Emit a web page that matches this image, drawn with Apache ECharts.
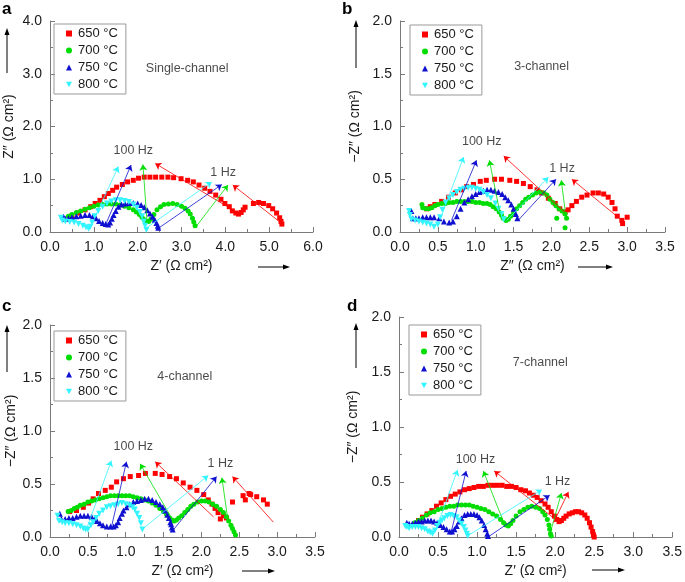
<!DOCTYPE html>
<html><head><meta charset="utf-8">
<script src="https://cdn.jsdelivr.net/npm/echarts@6/dist/echarts.min.js"></script>
<style>html,body{margin:0;padding:0;background:#fff}#c{width:685px;height:582px}</style>
</head><body><div id="c"></div>
<script>
// ---------- data ----------
const temps = ['650 °C', '700 °C', '750 °C', '800 °C'];
const panelLetters = ['a', 'b', 'c', 'd'];
const panelTitles = ['Single-channel', '3-channel', '4-channel', '7-channel'];
const xNames = ['Z′ (Ω cm²)', 'Z″ (Ω cm²)', 'Z′ (Ω cm²)', 'Z′ (Ω cm²)'];
const yNames = ['Z″ (Ω cm²)', '−Z″ (Ω cm²)', '−Z″ (Ω cm²)', '−Z″ (Ω cm²)'];
const xMax = [6, 3.5, 3.5, 3.5];
const xStep = [1, 0.5, 0.5, 0.5];
const yMax = [4, 2, 2, 2];
const yStep = [1, 0.5, 0.5, 0.5];

const a650 = [[0.5,0.3],[0.65,0.36],[0.8,0.42],[0.93,0.48],[1.03,0.54],[1.14,0.6],[1.24,0.67],[1.33,0.73],[1.43,0.79],[1.52,0.85],[1.65,0.9],[1.77,0.95],[1.9,0.98],[2.02,1.02],[2.15,1.04],[2.28,1.04],[2.41,1.04],[2.55,1.04],[2.69,1.04],[2.82,1.03],[2.99,1.01],[3.14,0.98],[3.27,0.95],[3.4,0.89],[3.53,0.83],[3.65,0.77],[3.78,0.7],[3.9,0.62],[3.99,0.54],[4.09,0.48],[4.16,0.4],[4.24,0.36],[4.3,0.34],[4.36,0.37],[4.41,0.42],[4.45,0.47],[4.64,0.54],[4.76,0.56],[4.87,0.54],[4.99,0.5],[5.08,0.44],[5.17,0.36],[5.24,0.27],[5.27,0.2],[5.29,0.15]];
const a700 = [[0.42,0.3],[0.5,0.33],[0.6,0.37],[0.7,0.4],[0.8,0.43],[0.9,0.46],[1.0,0.49],[1.1,0.51],[1.2,0.52],[1.3,0.53],[1.4,0.53],[1.5,0.53],[1.6,0.51],[1.7,0.49],[1.8,0.46],[1.9,0.42],[1.97,0.38],[2.04,0.33],[2.1,0.28],[2.15,0.23],[2.2,0.2],[2.25,0.2],[2.3,0.24],[2.37,0.33],[2.44,0.42],[2.52,0.48],[2.6,0.52],[2.7,0.53],[2.8,0.54],[2.9,0.52],[3.0,0.49],[3.08,0.45],[3.15,0.4],[3.2,0.34],[3.25,0.26],[3.28,0.19],[3.31,0.12]];
const a750 = [[0.31,0.29],[0.35,0.25],[0.42,0.26],[0.5,0.28],[0.6,0.3],[0.7,0.31],[0.8,0.32],[0.9,0.32],[0.98,0.3],[1.05,0.26],[1.12,0.21],[1.2,0.17],[1.27,0.15],[1.33,0.14],[1.37,0.18],[1.41,0.25],[1.45,0.32],[1.5,0.4],[1.56,0.48],[1.63,0.52],[1.71,0.54],[1.8,0.55],[1.9,0.55],[2.0,0.54],[2.08,0.51],[2.15,0.47],[2.22,0.41],[2.28,0.35],[2.34,0.29],[2.39,0.23],[2.43,0.17],[2.46,0.12],[2.47,0.08]];
const a800 = [[0.25,0.27],[0.28,0.22],[0.35,0.2],[0.45,0.19],[0.55,0.18],[0.65,0.15],[0.75,0.12],[0.82,0.09],[0.88,0.06],[0.92,0.1],[0.96,0.18],[1.02,0.3],[1.1,0.4],[1.2,0.48],[1.3,0.54],[1.4,0.58],[1.5,0.6],[1.6,0.6],[1.7,0.59],[1.8,0.57],[1.9,0.52],[1.98,0.46],[2.05,0.38],[2.1,0.3],[2.14,0.2],[2.17,0.12],[2.2,0.04]];

const b650 = [[0.35,0.22],[0.4,0.24],[0.46,0.26],[0.55,0.29],[0.64,0.33],[0.73,0.37],[0.81,0.4],[0.88,0.43],[0.97,0.45],[1.06,0.48],[1.14,0.49],[1.25,0.5],[1.34,0.5],[1.45,0.49],[1.54,0.48],[1.63,0.46],[1.72,0.43],[1.81,0.4],[1.87,0.37],[1.96,0.32],[2.05,0.27],[2.11,0.22],[2.18,0.19],[2.22,0.21],[2.27,0.25],[2.33,0.29],[2.4,0.33],[2.47,0.35],[2.55,0.37],[2.62,0.37],[2.69,0.36],[2.75,0.33],[2.8,0.28],[2.84,0.22],[2.87,0.15],[2.93,0.11],[2.94,0.08],[3.0,0.14]];
const b700 = [[0.29,0.26],[0.3,0.23],[0.34,0.22],[0.38,0.22],[0.42,0.23],[0.46,0.25],[0.5,0.26],[0.55,0.27],[0.6,0.27],[0.65,0.28],[0.7,0.28],[0.75,0.29],[0.8,0.29],[0.85,0.29],[0.9,0.29],[0.95,0.29],[1.0,0.28],[1.05,0.28],[1.1,0.27],[1.15,0.27],[1.19,0.26],[1.23,0.24],[1.27,0.22],[1.31,0.19],[1.34,0.16],[1.37,0.13],[1.4,0.11],[1.43,0.12],[1.46,0.15],[1.5,0.18],[1.54,0.22],[1.58,0.25],[1.62,0.28],[1.66,0.31],[1.7,0.33],[1.75,0.35],[1.8,0.37],[1.85,0.38],[1.9,0.37],[1.94,0.35],[1.98,0.31],[2.02,0.28],[2.06,0.25],[2.1,0.22],[2.14,0.2],[2.18,0.17],[2.07,0.13],[2.2,0.13],[2.18,0.04]];
const b750 = [[0.15,0.2],[0.17,0.13],[0.21,0.13],[0.25,0.13],[0.3,0.14],[0.35,0.14],[0.4,0.14],[0.45,0.14],[0.52,0.13],[0.58,0.1],[0.65,0.09],[0.7,0.1],[0.75,0.15],[0.8,0.22],[0.85,0.28],[0.9,0.31],[0.95,0.34],[1.0,0.36],[1.05,0.38],[1.1,0.39],[1.15,0.4],[1.2,0.4],[1.25,0.39],[1.3,0.38],[1.35,0.36],[1.39,0.33],[1.43,0.3],[1.47,0.26],[1.5,0.22],[1.53,0.17],[1.55,0.13]];
const b800 = [[0.12,0.2],[0.13,0.16],[0.15,0.12],[0.2,0.11],[0.25,0.1],[0.3,0.09],[0.35,0.08],[0.4,0.07],[0.45,0.05],[0.5,0.07],[0.53,0.14],[0.56,0.21],[0.6,0.28],[0.65,0.32],[0.7,0.35],[0.75,0.38],[0.8,0.4],[0.85,0.41],[0.9,0.42],[0.95,0.42],[1.0,0.41],[1.05,0.4],[1.1,0.38],[1.15,0.35],[1.2,0.32],[1.26,0.27],[1.3,0.22],[1.34,0.17],[1.37,0.12]];

const c650 = [[0.26,0.24],[0.35,0.25],[0.44,0.28],[0.51,0.32],[0.57,0.36],[0.64,0.41],[0.73,0.44],[0.81,0.47],[0.88,0.52],[0.97,0.55],[1.06,0.57],[1.17,0.58],[1.26,0.6],[1.39,0.6],[1.48,0.59],[1.58,0.57],[1.67,0.55],[1.76,0.51],[1.85,0.47],[1.94,0.44],[2.03,0.4],[2.09,0.35],[2.14,0.31],[2.18,0.27],[2.22,0.23],[2.25,0.17],[2.29,0.2],[2.33,0.18],[2.41,0.33],[2.55,0.39],[2.58,0.35],[2.63,0.41],[2.65,0.4],[2.73,0.38],[2.82,0.35],[2.87,0.31]];
const c700 = [[0.24,0.24],[0.28,0.25],[0.32,0.27],[0.36,0.28],[0.4,0.3],[0.45,0.31],[0.5,0.33],[0.55,0.34],[0.6,0.35],[0.65,0.36],[0.7,0.37],[0.75,0.38],[0.8,0.39],[0.85,0.39],[0.9,0.39],[0.95,0.39],[1.0,0.39],[1.05,0.39],[1.1,0.38],[1.15,0.37],[1.2,0.36],[1.25,0.35],[1.3,0.34],[1.35,0.32],[1.4,0.3],[1.45,0.27],[1.5,0.24],[1.54,0.21],[1.58,0.18],[1.61,0.16],[1.64,0.15],[1.67,0.16],[1.7,0.18],[1.74,0.2],[1.78,0.23],[1.82,0.26],[1.86,0.29],[1.9,0.31],[1.95,0.33],[2.0,0.34],[2.05,0.34],[2.1,0.33],[2.15,0.31],[2.2,0.29],[2.25,0.26],[2.29,0.23],[2.33,0.19],[2.36,0.15],[2.39,0.11],[2.41,0.08],[2.43,0.05],[2.45,0.02]];
const c750 = [[0.13,0.22],[0.15,0.17],[0.2,0.17],[0.25,0.18],[0.3,0.18],[0.35,0.19],[0.4,0.2],[0.45,0.2],[0.5,0.2],[0.55,0.19],[0.59,0.17],[0.62,0.15],[0.66,0.13],[0.7,0.11],[0.75,0.1],[0.8,0.1],[0.84,0.1],[0.87,0.11],[0.9,0.14],[0.92,0.18],[0.95,0.22],[0.97,0.25],[1.01,0.28],[1.05,0.31],[1.1,0.33],[1.15,0.34],[1.2,0.35],[1.25,0.36],[1.3,0.36],[1.35,0.35],[1.4,0.33],[1.45,0.31],[1.49,0.28],[1.52,0.25],[1.55,0.21],[1.57,0.18],[1.59,0.14],[1.6,0.12],[1.61,0.09],[1.62,0.07]];
const c800 = [[0.1,0.2],[0.12,0.15],[0.16,0.14],[0.2,0.13],[0.25,0.13],[0.3,0.12],[0.35,0.11],[0.4,0.1],[0.44,0.08],[0.47,0.07],[0.5,0.07],[0.54,0.11],[0.57,0.14],[0.61,0.18],[0.65,0.22],[0.7,0.25],[0.75,0.28],[0.8,0.29],[0.85,0.3],[0.9,0.31],[0.95,0.32],[1.0,0.31],[1.05,0.3],[1.09,0.28],[1.12,0.26],[1.15,0.22],[1.18,0.18],[1.2,0.13],[1.22,0.07]];

const d650 = [[0.25,0.15],[0.3,0.18],[0.36,0.21],[0.42,0.24],[0.48,0.28],[0.54,0.31],[0.6,0.34],[0.66,0.37],[0.72,0.39],[0.78,0.41],[0.84,0.43],[0.9,0.44],[0.96,0.45],[1.02,0.46],[1.08,0.46],[1.14,0.47],[1.2,0.47],[1.26,0.47],[1.32,0.47],[1.38,0.46],[1.44,0.46],[1.5,0.45],[1.56,0.43],[1.62,0.42],[1.67,0.4],[1.72,0.38],[1.77,0.36],[1.82,0.33],[1.87,0.3],[1.91,0.27],[1.95,0.23],[1.99,0.19],[2.02,0.16],[2.05,0.14],[2.08,0.15],[2.11,0.17],[2.14,0.19],[2.18,0.21],[2.22,0.22],[2.26,0.23],[2.3,0.23],[2.34,0.22],[2.38,0.2],[2.41,0.17],[2.44,0.13],[2.46,0.09],[2.48,0.05],[2.49,0.02],[2.5,0.0]];
const d700 = [[0.2,0.13],[0.25,0.15],[0.3,0.17],[0.35,0.2],[0.4,0.22],[0.45,0.23],[0.5,0.25],[0.55,0.26],[0.6,0.27],[0.65,0.28],[0.7,0.28],[0.75,0.29],[0.8,0.29],[0.85,0.29],[0.9,0.29],[0.95,0.28],[1.0,0.27],[1.05,0.26],[1.1,0.25],[1.15,0.23],[1.2,0.21],[1.25,0.19],[1.3,0.16],[1.34,0.13],[1.37,0.11],[1.4,0.1],[1.43,0.12],[1.46,0.15],[1.5,0.19],[1.55,0.23],[1.6,0.25],[1.65,0.27],[1.7,0.28],[1.75,0.27],[1.8,0.26],[1.84,0.23],[1.87,0.2],[1.9,0.16],[1.92,0.11],[1.93,0.07],[1.94,0.03],[1.95,0.01]];
const d750 = [[0.1,0.13],[0.13,0.12],[0.17,0.12],[0.21,0.13],[0.25,0.14],[0.29,0.14],[0.33,0.15],[0.37,0.15],[0.41,0.15],[0.45,0.14],[0.49,0.13],[0.53,0.11],[0.57,0.09],[0.61,0.07],[0.65,0.05],[0.68,0.05],[0.71,0.07],[0.74,0.1],[0.77,0.14],[0.8,0.17],[0.84,0.2],[0.88,0.21],[0.92,0.21],[0.96,0.21],[1.0,0.2],[1.03,0.18],[1.06,0.15],[1.09,0.11],[1.11,0.07],[1.13,0.03],[1.14,0.01]];
const d800 = [[0.08,0.1],[0.1,0.09],[0.13,0.08],[0.17,0.09],[0.21,0.09],[0.25,0.09],[0.29,0.08],[0.33,0.07],[0.37,0.05],[0.4,0.04],[0.43,0.03],[0.46,0.06],[0.49,0.1],[0.52,0.13],[0.55,0.15],[0.58,0.17],[0.62,0.19],[0.66,0.2],[0.7,0.19],[0.74,0.18],[0.77,0.15],[0.8,0.12],[0.83,0.09],[0.85,0.06],[0.87,0.03],[0.88,0.01]];

// arrows: [temperature index, tailX, tailY, headX, headY]
const aArrows = [[3,1.03,0.29,1.56,1.24],[2,1.29,0.18,1.85,1.27],[1,2.21,0.23,2.12,1.28],[0,4.25,0.38,2.4,1.3],
                 [3,2.17,0.06,3.69,0.95],[2,2.47,0.07,3.92,0.9],[1,3.33,0.1,4.06,0.89],[0,5.29,0.16,4.17,0.89]];
const bArrows = [[3,0.53,0.12,0.84,0.71],[2,0.68,0.11,1.01,0.68],[1,1.34,0.11,1.18,0.68],[0,2.17,0.19,1.37,0.72],
                 [3,1.41,0.11,1.96,0.52],[2,1.56,0.11,2.06,0.5],[1,2.18,0.21,2.13,0.49],[0,2.88,0.14,2.27,0.5]];
const cArrows = [[3,0.48,0.07,0.81,0.72],[2,0.81,0.09,1.01,0.71],[1,1.63,0.15,1.19,0.69],[0,2.16,0.19,1.39,0.71],
                 [3,1.23,0.08,2.09,0.58],[2,1.61,0.05,2.2,0.57],[1,2.35,0.16,2.27,0.56],[0,2.95,0.14,2.41,0.57]];
const dArrows = [[3,0.47,0.06,0.75,0.61],[2,0.67,0.05,0.86,0.6],[1,1.36,0.1,1.08,0.6],[0,2.02,0.15,1.22,0.6],
                 [3,0.9,0.02,1.83,0.43],[2,1.14,0.0,1.93,0.38],[1,1.93,0.02,2.08,0.4],[0,1.98,0.13,2.17,0.41]];

// annotations: [text, x, y]
const aNotes = [['100 Hz',1.9,1.55],['1 Hz',3.95,1.12],['Single-channel',3.13,3.1]];
const bNotes = [['100 Hz',1.08,0.86],['1 Hz',2.14,0.6],['3-channel',1.87,1.57]];
const cNotes = [['100 Hz',1.1,0.85],['1 Hz',2.25,0.69],['4-channel',1.78,1.51]];
const dNotes = [['100 Hz',0.98,0.7],['1 Hz',2.03,0.5],['7-channel',1.81,1.59]];

// ---------- styling / layout ----------
const FONT = 'Liberation Sans, Arial, Helvetica, sans-serif';
const colors = ['#ff0000', '#00dd00', '#1010d0', '#33f5ff'];
const symbols = ['rect', 'circle', 'triangle', 'path://M0,0L10,0L5,9Z'];
const symSizes = [5, 5, 6, 6];
const grids = [
  {left: 50, top: 21, width: 263, height: 211},
  {left: 400, top: 21, width: 265, height: 211},
  {left: 50, top: 325, width: 265, height: 212},
  {left: 399, top: 317, width: 276, height: 220}
];
const yNameGap = [34, 38, 31, 39];
const legendPos = [[54, 24], [410, 25], [54, 331], [409, 325]];
const panels = [
  {data: [a650, a700, a750, a800], arrows: aArrows, notes: aNotes},
  {data: [b650, b700, b750, b800], arrows: bArrows, notes: bNotes},
  {data: [c650, c700, c750, c800], arrows: cArrows, notes: cNotes},
  {data: [d650, d700, d750, d800], arrows: dArrows, notes: dNotes}
];

const axisLine = {lineStyle: {color: '#7a7a7a', width: 1}};
const fmt = v => v.toFixed(1);

const xAxis = [], yAxis = [], series = [], legend = [];
panels.forEach((p, i) => {
  xAxis.push({
    type: 'value', gridIndex: i, min: 0, max: xMax[i], interval: xStep[i],
    name: xNames[i], nameLocation: 'middle', nameGap: 27,
    nameTextStyle: {fontFamily: FONT, fontSize: 14, color: '#1a1a1a'},
    axisLine: axisLine, splitLine: {show: false},
    axisTick: {inside: true, length: 5, lineStyle: {color: '#7a7a7a'}},
    minorTick: {show: true, splitNumber: 2, length: 3, lineStyle: {color: '#7a7a7a'}},
    axisLabel: {formatter: fmt, fontFamily: FONT, fontSize: 14, color: '#1a1a1a', margin: 8, showMaxLabel: true}
  });
  yAxis.push({
    type: 'value', gridIndex: i, min: 0, max: yMax[i], interval: yStep[i],
    name: yNames[i], nameLocation: 'middle', nameGap: yNameGap[i],
    nameTextStyle: {fontFamily: FONT, fontSize: 14, color: '#1a1a1a'},
    axisLine: Object.assign({show: true}, axisLine), splitLine: {show: false},
    axisTick: {show: true, inside: true, length: 5, lineStyle: {color: '#7a7a7a'}},
    minorTick: {show: true, splitNumber: 2, length: 3, lineStyle: {color: '#7a7a7a'}},
    axisLabel: {formatter: fmt, fontFamily: FONT, fontSize: 14, color: '#1a1a1a', margin: 8}
  });
  p.data.forEach((pts, k) => {
    series.push({
      type: 'scatter', name: temps[k], xAxisIndex: i, yAxisIndex: i,
      data: pts, symbol: symbols[k], symbolSize: symSizes[k],
      itemStyle: {color: colors[k], opacity: 1}, z: 3 + k, silent: true
    });
  });
  series.push({
    type: 'lines', coordinateSystem: 'cartesian2d', xAxisIndex: i, yAxisIndex: i,
    symbol: ['none', 'arrow'], symbolSize: [4, 6], silent: true, z: 8,
    data: p.arrows.map(a => ({coords: [[a[1], a[2]], [a[3], a[4]]], lineStyle: {color: colors[a[0]], width: 0.8, opacity: 1}}))
  });
  series.push({
    type: 'scatter', xAxisIndex: i, yAxisIndex: i, symbolSize: 1, silent: true, z: 9,
    itemStyle: {color: 'rgba(0,0,0,0)'},
    data: p.notes.map(n => ({value: [n[1], n[2]], name: n[0]})),
    label: {show: true, position: 'inside', formatter: d => d.name, fontFamily: FONT,
            fontSize: 12.5, color: '#1a1a1a'}
  });
  legend.push({
    left: legendPos[i][0], top: legendPos[i][1], orient: 'vertical',
    data: temps, itemWidth: 6, itemHeight: 6, itemGap: 4,
    padding: [3, 8, 3, 12], borderColor: '#999', borderWidth: 1,
    textStyle: {fontFamily: FONT, fontSize: 13, color: '#1a1a1a', padding: [0, 0, 0, 1]},
    selectedMode: false
  });
});

// decorative axis arrows and panel letters
const graphic = [];
const hArrows = [[258, 290, 267], [578, 613, 267], [242, 275, 571], [592, 625, 570]];
const vArrows = [[7, 73, 28], [356, 68, 20], [7, 372, 325], [356, 368, 323]];
hArrows.forEach(h => {
  graphic.push({type: 'line', shape: {x1: h[0], y1: h[2], x2: h[1] - 4, y2: h[2]}, style: {stroke: '#000', lineWidth: 1}});
  graphic.push({type: 'polygon', shape: {points: [[h[1], h[2]], [h[1] - 7, h[2] - 2.5], [h[1] - 7, h[2] + 2.5]]}, style: {fill: '#000'}});
});
vArrows.forEach(v => {
  graphic.push({type: 'line', shape: {x1: v[0], y1: v[1], x2: v[0], y2: v[2] + 4}, style: {stroke: '#000', lineWidth: 1}});
  graphic.push({type: 'polygon', shape: {points: [[v[0], v[2]], [v[0] - 2.5, v[2] + 7], [v[0] + 2.5, v[2] + 7]]}, style: {fill: '#000'}});
});
const letterPos = [[2, 1], [342, 1], [2, 298], [347, 298]];
panelLetters.forEach((l, i) => {
  graphic.push({type: 'text', left: letterPos[i][0], top: letterPos[i][1],
    style: {text: l, font: 'bold 17px ' + FONT, fill: '#000'}});
});

const chart = echarts.init(document.getElementById('c'), null, {renderer: 'canvas'});
chart.setOption({
  animation: false, backgroundColor: '#fff',
  grid: grids.map(g => Object.assign({containLabel: false}, g)),
  xAxis, yAxis, series, legend, graphic
});
</script></body></html>
